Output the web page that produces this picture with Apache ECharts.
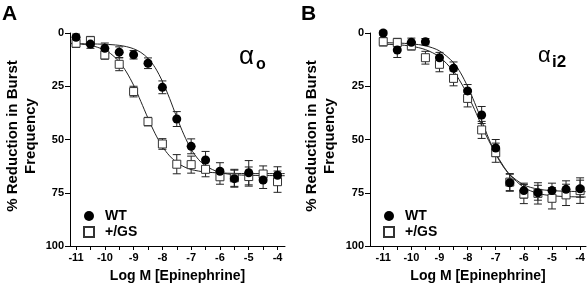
<!DOCTYPE html>
<html>
<head>
<meta charset="utf-8">
<script src="https://cdn.jsdelivr.net/npm/echarts@6/dist/echarts.min.js"></script>
<style>
  html, body { margin: 0; padding: 0; background: #fff; }
  #chart { width: 588px; height: 284px; }
</style>
</head>
<body>
<div id="chart"></div>
<script>
// log M epinephrine doses
const doses = [-11, -10.5, -10, -9.5, -9, -8.5, -8, -7.5, -7, -6.5, -6, -5.5, -5, -4.5, -4]
const xTicks = [-11, -10, -9, -8, -7, -6, -5, -4]
const xMinorTicks = [-11, -10.5, -10, -9.5, -9, -8.5, -8, -7.5, -7, -6.5, -6, -5.5, -5, -4.5, -4]
const yTicks = [0, 25, 50, 75, 100]

// panel A (alpha o)
const wtA = [2, 5.2, 7.2, 9, 10.2, 14.2, 25.5, 40.4, 53.2, 59.6, 64.9, 68.4, 65.6, 69, 66.8]
const wtAErr = [1.5, 2, 2.5, 2.5, 2, 2.5, 3, 3.5, 3.5, 4, 4, 4, 5.7, 4, 4]
const gsA = [4.8, 3.6, 10.3, 14.7, 27.5, 41.6, 52.1, 61.6, 61.8, 64, 67.5, 68, 67.4, 66.2, 69.8]
const gsAErr = [2, 2, 2, 3, 2.5, 2, 2.5, 4.5, 4, 3.5, 3.5, 4, 4.5, 3.8, 5]

// fitted curves
const fitAx = [-11.2, -10.5, -10, -9.75, -9.5, -9.25, -9, -8.75, -8.5, -8.25, -8, -7.75, -7.5, -7.25, -7, -6.75, -6.5, -6, -5.5, -5, -4.5, -3.75]
const fitWtA = [5, 5.1, 5.3, 5.5, 5.8, 6.4, 7.4, 9.1, 11.9, 16.3, 22.7, 30.7, 39.6, 47.8, 54.6, 59.3, 62.4, 65.5, 66.5, 66.8, 66.9, 67]
const fitGsA = [4.8, 5.8, 8, 10.2, 13.5, 18.3, 24.5, 32.1, 40, 47.3, 53.3, 57.7, 60.8, 62.8, 64.1, 64.8, 65.3, 65.7, 65.9, 66, 66, 66]

// panel B (alpha i2)
const wtB = [0, 8, 4.4, 4.1, 11.6, 16.6, 27.2, 38.5, 54, 70.3, 74, 75, 74, 73.4, 73.1]
const wtBErr = [1, 3.5, 2, 1.5, 2.5, 3, 3, 4, 4, 4, 3.5, 3.5, 3.5, 4, 4]
const gsB = [4.1, 4.5, 6, 11.6, 14.7, 21.3, 30.7, 45.5, 56.2, 70, 75.6, 75.3, 77.6, 76, 74]
const gsBErr = [2, 2, 2, 3, 3.5, 3.5, 4, 4, 4.5, 4, 4.5, 5, 5, 5, 6]

const fitBx = [-11.15, -10.5, -10, -9.5, -9, -8.5, -8.25, -8, -7.75, -7.5, -7.25, -7, -6.75, -6.5, -6, -5.5, -5, -4.5, -3.8]
const fitWtB = [4.5, 4.7, 5.1, 6, 8.4, 13.9, 18.7, 25.1, 32.7, 41.1, 49.5, 56.8, 62.4, 66.5, 71.3, 73.3, 74, 74.3, 74.5]
const fitGsB = [5.2, 5.5, 6.2, 7.8, 11.2, 18, 23, 29, 36, 43.5, 50.5, 56.5, 62, 66.5, 72.5, 75.3, 76.4, 76.8, 77]

const font = 'Liberation Sans, Arial, sans-serif'

const zip = (xs, ys, es) => xs.map((x, i) => es ? [x, ys[i], es[i]] : [x, ys[i]])

function errorBars(params, api) {
  const x = api.value(0), y = api.value(1), e = api.value(2)
  const lo = api.coord([x, y - e])
  const hi = api.coord([x, y + e])
  const w = 4
  const st = { stroke: '#222', lineWidth: 1 }
  return {
    type: 'group',
    children: [
      { type: 'line', shape: { x1: lo[0], y1: lo[1], x2: hi[0], y2: hi[1] }, style: st },
      { type: 'line', shape: { x1: lo[0] - w, y1: lo[1], x2: lo[0] + w, y2: lo[1] }, style: st },
      { type: 'line', shape: { x1: hi[0] - w, y1: hi[1], x2: hi[0] + w, y2: hi[1] }, style: st }
    ]
  }
}

function xAxis(idx, min, max) {
  return {
    type: 'value', gridIndex: idx, min: min, max: max,
    splitLine: { show: false },
    axisLine: { onZero: false, lineStyle: { color: '#000', width: 1 } },
    axisTick: { customValues: xMinorTicks, length: 4, lineStyle: { color: '#000' } },
    axisLabel: { customValues: xTicks, color: '#000', fontSize: 11, fontWeight: 'bold', fontFamily: font, margin: 6 },
    name: 'Log M [Epinephrine]', nameLocation: 'middle', nameGap: 23,
    nameTextStyle: { color: '#000', fontSize: 14, fontWeight: 'bold', fontFamily: font }
  }
}

function yAxis(idx) {
  return {
    type: 'value', gridIndex: idx, min: 0, max: 100, interval: 25, inverse: true,
    splitLine: { show: false },
    axisLine: { show: true, lineStyle: { color: '#000', width: 1 } },
    axisTick: { show: true, length: 5, lineStyle: { color: '#000' } },
    axisLabel: { color: '#000', fontSize: 11, fontWeight: 'bold', fontFamily: font, margin: 6,
      customValues: yTicks }
  }
}

function panelSeries(idx, wt, wtErr, gs, gsErr, fx, fwt, fgs) {
  const base = { xAxisIndex: idx, yAxisIndex: idx }
  return [
    Object.assign({ type: 'line', name: 'fitWT' + idx, data: zip(fx, fwt), smooth: 0.3, symbol: 'none',
      lineStyle: { color: '#222', width: 1 }, z: 1, silent: true }, base),
    Object.assign({ type: 'line', name: 'fitGS' + idx, data: zip(fx, fgs), smooth: 0.3, symbol: 'none',
      lineStyle: { color: '#222', width: 1 }, z: 1, silent: true }, base),
    Object.assign({ type: 'custom', name: 'errGS' + idx, data: zip(doses, gs, gsErr), renderItem: errorBars, z: 2, silent: true }, base),
    Object.assign({ type: 'custom', name: 'errWT' + idx, data: zip(doses, wt, wtErr), renderItem: errorBars, z: 2, silent: true }, base),
    Object.assign({ type: 'scatter', name: '+/GS', data: zip(doses, gs), symbol: 'rect', symbolSize: 8,
      itemStyle: { color: '#fff', borderColor: '#333', borderWidth: 1, opacity: 1 }, z: 3 }, base),
    Object.assign({ type: 'scatter', name: 'WT', data: zip(doses, wt), symbol: 'circle', symbolSize: 9,
      itemStyle: { color: '#000', opacity: 1 }, z: 4 }, base)
  ]
}

const chart = echarts.init(document.getElementById('chart'), null, { renderer: 'canvas' })

const legendCommon = {
  data: ['WT', '+/GS'], orient: 'vertical', itemWidth: 10, itemHeight: 10, itemGap: 2, padding: 0,
  textStyle: { color: '#000', fontSize: 14, fontWeight: 'bold', fontFamily: font, lineHeight: 14, padding: [0, 0, 0, 6] },
  selectedMode: false
}

chart.setOption({
  backgroundColor: '#fff',
  animation: false,
  grid: [
    { left: 70, top: 33, width: 215, height: 213, outerBoundsMode: 'none', containLabel: false },
    { left: 370, top: 33, width: 216, height: 213, outerBoundsMode: 'none', containLabel: false }
  ],
  xAxis: [xAxis(0, -11.21, -3.74), xAxis(1, -11.47, -3.79)],
  yAxis: [yAxis(0), yAxis(1)],
  legend: [
    Object.assign({ left: 83, top: 209 }, legendCommon),
    Object.assign({ left: 383, top: 209 }, legendCommon)
  ],
  series: [].concat(
    panelSeries(0, wtA, wtAErr, gsA, gsAErr, fitAx, fitWtA, fitGsA),
    panelSeries(1, wtB, wtBErr, gsB, gsBErr, fitBx, fitWtB, fitGsB)
  ),
  graphic: [
    { type: 'text', left: 2, top: 4, style: { text: 'A', fill: '#000', font: 'bold 21px ' + font } },
    { type: 'text', left: 301, top: 4, style: { text: 'B', fill: '#000', font: 'bold 21px ' + font } },
    { type: 'text', x: 22, y: 136, rotation: Math.PI / 2,
      style: { text: '% Reduction in Burst\nFrequency', fill: '#000', font: 'bold 15px ' + font,
        align: 'center', verticalAlign: 'middle', lineHeight: 18 } },
    { type: 'text', x: 321, y: 136, rotation: Math.PI / 2,
      style: { text: '% Reduction in Burst\nFrequency', fill: '#000', font: 'bold 15px ' + font,
        align: 'center', verticalAlign: 'middle', lineHeight: 18 } },
    { type: 'text', x: 239, y: 57, style: { text: 'α', fill: '#000', font: '26px ' + font, align: 'left', verticalAlign: 'middle' } },
    { type: 'text', x: 256, y: 65, style: { text: 'o', fill: '#000', font: 'bold 16px ' + font, align: 'left', verticalAlign: 'middle' } },
    { type: 'text', x: 538, y: 56, style: { text: 'α', fill: '#000', font: '22px ' + font, align: 'left', verticalAlign: 'middle' } },
    { type: 'text', x: 552, y: 62, style: { text: 'i2', fill: '#000', font: 'bold 17px ' + font, align: 'left', verticalAlign: 'middle' } }
  ]
})
</script>
</body>
</html>
